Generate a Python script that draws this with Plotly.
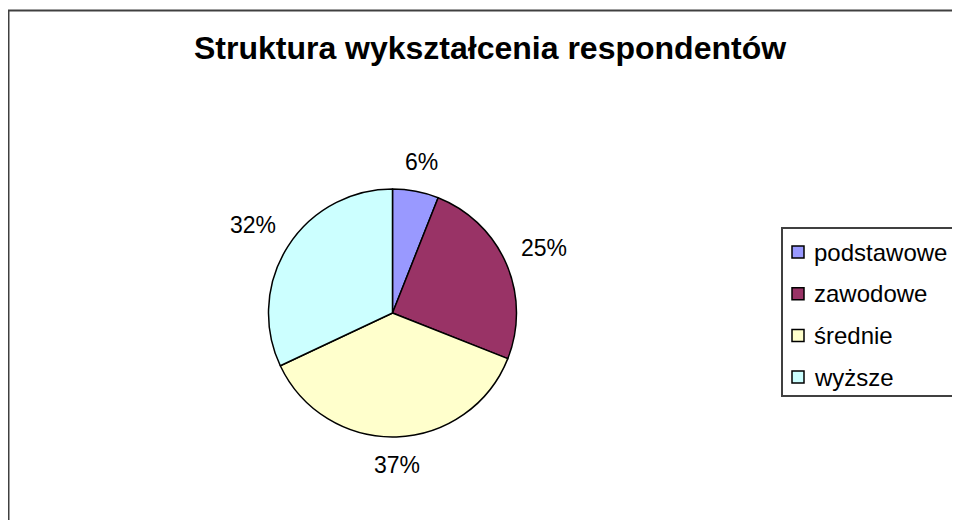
import math
import plotly.graph_objects as go

# dane wykresu
kategorie = ['podstawowe', 'zawodowe', 'średnie', 'wyższe']
udzialy = [6, 25, 37, 32]
kolory = ['#9999FF', '#993366', '#FFFFCC', '#CCFFFF']

OFF = 8  # domyślny margines strony w przeglądarce
W, H = 960 - 2 * OFF, 528 - 2 * OFF


def px_x(x):
    return (x - OFF) / W


def px_y(y):
    return 1 - (y - OFF) / H


FONT = 'Liberation Sans, Arial'
cx, cy, r = 392.5, 313, 124

fig = go.Figure()

fig.add_trace(go.Pie(
    labels=kategorie,
    values=udzialy,
    marker=dict(colors=kolory, line=dict(color='black', width=1.5)),
    sort=False,
    direction='clockwise',
    rotation=0,
    textinfo='none',
    domain=dict(x=[px_x(cx - r), px_x(cx + r)], y=[px_y(cy + r), px_y(cy - r)]),
    showlegend=False,
    hoverinfo='label+percent',
))

# etykiety procentowe na zewnątrz, jak w Excelu
suma = sum(udzialy)
adnotacje = []
skum = 0
for v in udzialy:
    kat = (skum + v / 2) / suma * 2 * math.pi
    skum += v
    txt = '%d%%' % round(v / suma * 100)
    w = 12.8 * (len(txt) - 1) + 20.4
    h = 24
    s, c = math.sin(kat), -math.cos(kat)
    d = r + 15 + abs(s) * w / 2 + abs(c) * h / 2
    adnotacje.append(dict(
        x=px_x(cx + d * s), y=px_y(cy + d * c), xref='paper', yref='paper',
        text=txt, showarrow=False, xanchor='center', yanchor='middle',
        font=dict(family=FONT, size=23, color='black'),
    ))

ksztalty = [
    # ramka całego wykresu
    dict(type='rect', xref='paper', yref='paper',
         x0=px_x(8.5), x1=px_x(980), y0=px_y(560), y1=px_y(10.5),
         line=dict(color='#404040', width=2)),
    # ramka legendy
    dict(type='rect', xref='paper', yref='paper',
         x0=px_x(782), x1=px_x(980), y0=px_y(396), y1=px_y(228),
         line=dict(color='#404040', width=2)),
]

# legenda rysowana ręcznie (w stylu Excela)
for i, (nazwa, kolor) in enumerate(zip(kategorie, kolory)):
    yc = 252 + i * 41.7
    ksztalty.append(dict(
        type='rect', xref='paper', yref='paper',
        x0=px_x(792), x1=px_x(804), y0=px_y(yc + 6), y1=px_y(yc - 6),
        fillcolor=kolor, line=dict(color='black', width=1.5)))
    adnotacje.append(dict(
        x=px_x(812), y=px_y(yc), xref='paper', yref='paper',
        text=nazwa, showarrow=False, xanchor='left', yanchor='middle',
        font=dict(family=FONT, size=24, color='black'),
    ))

fig.update_layout(
    width=W, height=H,
    margin=dict(l=0, r=0, t=0, b=0),
    paper_bgcolor='white',
    plot_bgcolor='white',
    title=dict(text='<b>Struktura wykształcenia respondentów</b>',
               x=px_x(490), xanchor='center', y=px_y(48), yanchor='middle',
               font=dict(family=FONT, size=32, color='black')),
    showlegend=False,
    annotations=adnotacje,
    shapes=ksztalty,
)

fig.write_html('out.html')
